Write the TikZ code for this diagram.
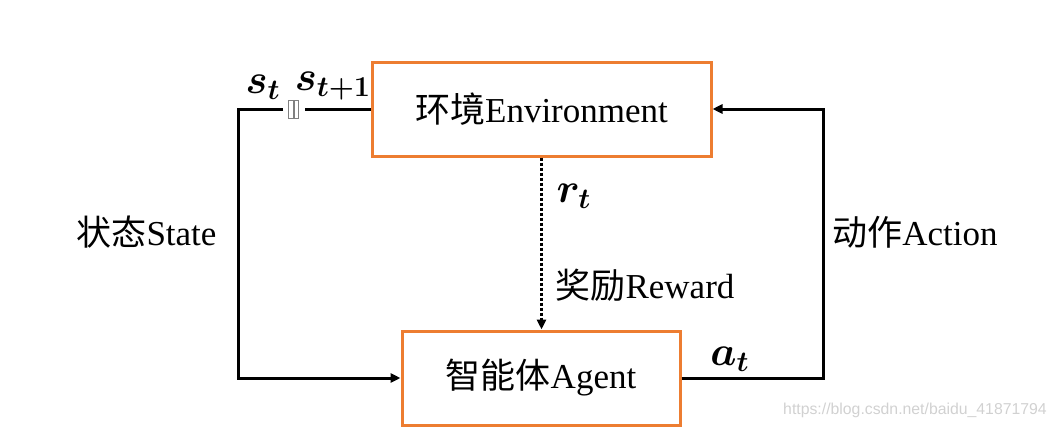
\documentclass[tikz,border=0pt]{standalone}
\usepackage{fontspec}
\setmainfont{Liberation Serif}
\newfontfamily\cjk{Noto Sans CJK SC}
\newfontfamily\wmfont{Liberation Sans}
\usetikzlibrary{arrows.meta}
\definecolor{boxorange}{RGB}{237,125,49}
\DeclareMathSizes{20}{20}{15.5}{12}
\begin{document}
\begin{tikzpicture}[x=0.5pt,y=-0.5pt,
  box/.style={draw=boxorange,line width=1.5pt,minimum height=47pt,inner sep=0pt},
  line/.style={line width=1.5pt},
  conn/.style={line width=1.5pt,-{Triangle[length=5pt,width=4.5pt]}},
  lbl/.style={font=\fontsize{17.5}{20}\selectfont,inner sep=0pt},
  mlbl/.style={font=\fontsize{20}{24}\selectfont\boldmath,inner sep=0pt}]
\useasboundingbox (0,0) rectangle (1057,428);
\node[box,minimum width=169.5pt,lbl] (env) at (541.5,109) {{\cjk 环境}Environment};
\node[box,minimum width=139pt,lbl] (agent) at (541,378) {{\cjk 智能体}Agent};
% left loop
\coordinate (gr) at (305,109);
\coordinate (gl) at (283,109);
\coordinate (lc) at (238,378);
\draw[line] (env.west) -- (gr);
\draw[conn] (gl) -| (lc) -- (agent.west);
\draw[gray,line width=0.4pt] (288.5,100.5) rectangle (293,118);
\draw[gray,line width=0.4pt] (294.5,100.5) rectangle (298,118);
% right loop
\coordinate (rc) at (823,378);
\draw[conn] (agent.east) -- (rc) |- (env.east);
% reward
\draw[conn,dash pattern=on 1.5pt off 1pt] (env.south) -- (env.south |- agent.north);
% labels
\node[mlbl] (st) at (263,87) {$s_t$};
\node[mlbl] (st1) at (333,86) {$s_{t+1}$};
\node[mlbl] (rt) at (574,196) {$r_t$};
\node[mlbl] (at) at (730,359) {$a_t$};
\node[lbl] (state) at (146.5,232) {{\cjk 状态}State};
\node[lbl] (action) at (915,232) {{\cjk 动作}Action};
\node[lbl] (reward) at (645,285) {{\cjk 奖励}Reward};
\node[text=black!18,font=\wmfont\fontsize{7.9}{9}\selectfont,inner sep=0pt] (wm) at (915,410) {https://blog.csdn.net/baidu\_41871794};
\end{tikzpicture}
\end{document}
